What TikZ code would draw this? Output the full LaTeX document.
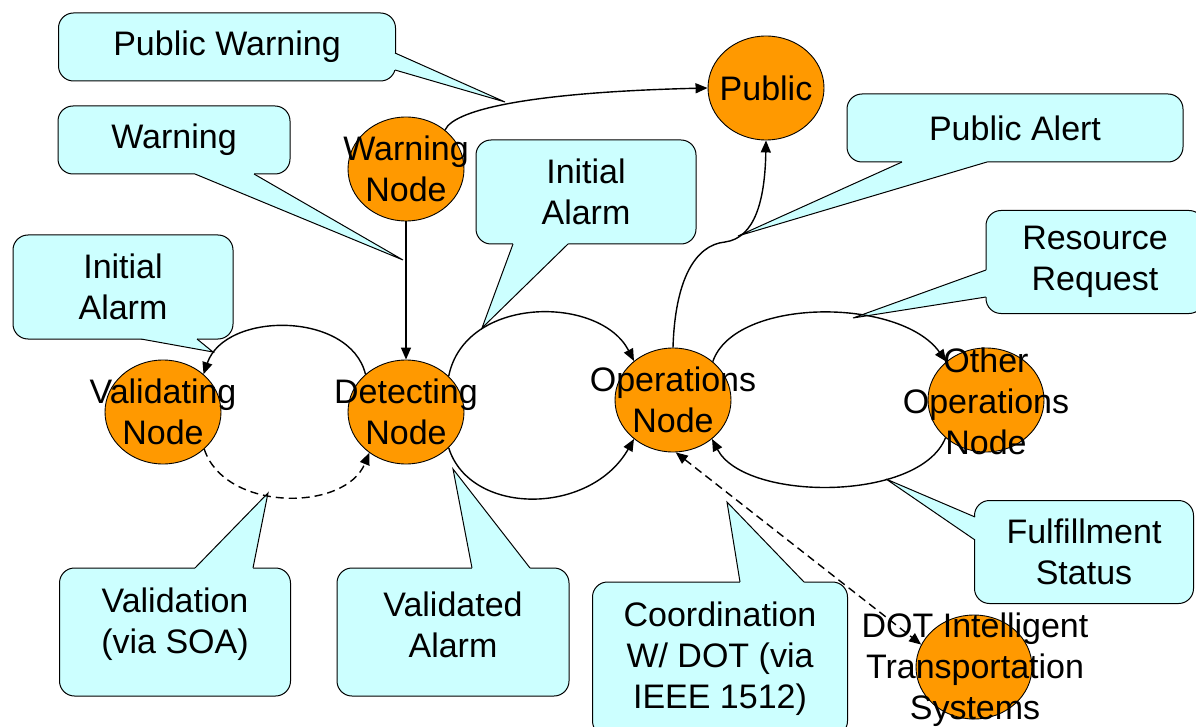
\documentclass[tikz,border=0pt]{standalone}
\usepackage{fontspec}
\setmainfont{Liberation Sans}
\usetikzlibrary{arrows.meta, shapes.geometric, calc}
\definecolor{orbfill}{HTML}{FF9900}
\definecolor{bubblefill}{HTML}{CCFFFF}
% pointer of a callout: base point, base point, tip, shift into the box
\newcommand{\calltip}[4]{%
  \fill[bubblefill] #1 -- #3 -- #2 -- ($#2+#4$) -- ($#1+#4$) -- cycle;
  \draw[tipline] #1 -- #3 -- #2;}

\begin{document}
\begin{tikzpicture}[x=1pt, y=-1pt,
    every node/.style={font=\fontsize{34}{41}\selectfont},
    orb/.style={draw, ellipse, fill=orbfill, minimum width=116pt, minimum height=104pt, inner sep=0pt, line width=0.9pt},
    orbtext/.style={align=center, inner sep=0pt},
    bubble/.style={draw, fill=bubblefill, rounded corners=15pt, align=center, inner sep=0pt, line width=1pt},
    tipline/.style={line width=1pt, line join=miter},
    flow/.style={line width=1.4pt, -{Triangle[length=12pt, width=10pt]}}]
    \useasboundingbox (0,0) rectangle (1196,727);
    \clip (0,0) rectangle (1196,727);

    % Callouts
    \node[bubble, minimum width=337pt, minimum height=68pt] (pwarnbox) at (227,47) {Public Warning};
    \node[bubble, minimum width=232pt, minimum height=68pt] (warnbox) at (174,140) {Warning};
    \node[bubble, minimum width=220pt, minimum height=104pt] (initbox) at (123,287) {Initial\\Alarm};
    \node[bubble, minimum width=220pt, minimum height=104pt] (initbox2) at (586,192) {Initial\\Alarm};
    \node[bubble, minimum width=336pt, minimum height=68pt] (alertbox) at (1015,128) {Public Alert};
    \node[bubble, minimum width=218pt, minimum height=103pt] (requestbox) at (1095,262) {Resource\\Request};
    \node[bubble, minimum width=219pt, minimum height=103pt] (statusbox) at (1084,552) {Fulfillment\\Status};
    \node[bubble, minimum width=231pt, minimum height=128pt, text depth=22pt] (soabox) at (175,632) {Validation\\(via SOA)};
    \node[bubble, minimum width=232pt, minimum height=128pt, text depth=15pt] (validbox) at (453,632) {Validated\\Alarm};
    \node[bubble, minimum width=255pt, minimum height=154pt] (dotbox) at (720,659) {Coordination\\W/ DOT (via\\IEEE 1512)};

    \calltip{(395,53)}{(395,70)}{(505,102)}{(-3,0)}
    \calltip{(195,174)}{(254,174)}{(403,260)}{(0,-3)}
    \calltip{(141,339)}{(197,339)}{(213,352)}{(0,-3)}
    \calltip{(513,244)}{(568,244)}{(482,328)}{(0,-3)}
    \calltip{(902,162)}{(987,162)}{(738,236)}{(0,-3)}
    \calltip{(986,270)}{(986,297)}{(853,318)}{(3,0)}
    \calltip{(975,517)}{(975,540)}{(886,479)}{(3,0)}
    \calltip{(195,568)}{(253,568)}{(268,493)}{(0,3)}
    \calltip{(472,568)}{(530,568)}{(453,469)}{(0,3)}
    \calltip{(740,582)}{(804,582)}{(727,502)}{(0,3)}

    % Nodes
    \node[orb] (public) at (766,88) {};
    \node[orb] (warn) at (406,169) {};
    \node[orb] (val) at (163,412) {};
    \node[orb] (det) at (406,412) {};
    \node[orb] (ops) at (673,400) {};
    \node[orb] (other) at (986,400) {};
    \node[orb] (dot) at (974,667) {};

    \node[orbtext] (publictxt) at (public) {Public};
    \node[orbtext] (warntxt) at (warn) {Warning\\Node};
    \node[orbtext] (valtxt) at (val) {Validating\\Node};
    \node[orbtext] (dettxt) at (det) {Detecting\\Node};
    \node[orbtext] (opstxt) at (ops) {Operations\\Node};
    \node[orbtext] (othertxt) at (986,401) {Other\\Operations\\Node};
    \node[orbtext] (dottxt) at (975,670) {DOT Intelligent\\Transportation\\Systems};

    % Arrows
    \draw[flow] (warn.45) .. controls (455,108) and (540,92) .. (public.west);
    \draw[flow] (warn) -- (det);
    \draw[flow] (det.137) .. controls (350,311) and (225,311) .. (val.43);
    \draw[flow, dashed, dash pattern=on 8pt off 5pt] (val.-42) .. controls (225,512) and (345,512) .. (det.-132);
    \draw[flow] (det.40) .. controls (465,295) and (600,295) .. (ops.135);
    \draw[flow] (det.-40) .. controls (470,516) and (590,516) .. (ops.-135);
    \draw[flow] (ops.north) .. controls (675,280) and (695,245) .. (725,242)
        .. controls (755,238) and (765,200) .. (public.south);
    \draw[flow] (ops.44) .. controls (735,297) and (900,297) .. (other.136);
    \draw[flow] (other.-137) .. controls (920,502) and (745,502) .. (ops.-45);
    \draw[line width=1.4pt, dash pattern=on 8pt off 5pt, {Triangle[length=12pt, width=10pt]}-{Triangle[length=12pt, width=10pt]}] (ops.-87) -- (dot.157);
\end{tikzpicture}
\end{document}
